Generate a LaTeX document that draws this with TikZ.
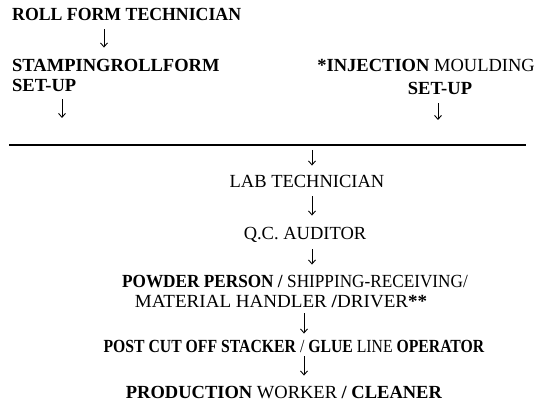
\documentclass[tikz,border=0pt]{standalone}
\usepackage{fontspec}
\setmainfont{Liberation Serif}
\usepackage{tikz}
\usetikzlibrary{arrows.meta,positioning,calc}
\tikzset{
  txt/.style={inner sep=0pt,font=\fontsize{18.5}{22}\selectfont},
  dn/.style={line width=.9pt,-{Straight Barb[length=4pt,width=7pt]},shorten <=6pt,shorten >=10pt},
  rulel/.style={line width=1.5pt,black}
}

\begin{document}
\begin{tikzpicture}[x=1pt,y=1pt]
  \useasboundingbox (0,0) rectangle (538,-414);
  % top left branch
  \node[txt,anchor=base west,transform shape,xscale=.96] (roll) at (12,-21) {\bfseries ROLL FORM TECHNICIAN};
  \node[txt,anchor=base west] (stamp) at (12,-72) {\bfseries STAMPINGROLLFORM};
  \node[txt,anchor=base west] (setl) at (12,-92) {\bfseries SET-UP};
  % top right branch
  \node[txt,anchor=base east] (inj) at (535,-72) {\textbf{*INJECTION} MOULDING};
  \node[txt,anchor=base] (setr) at (440,-95) {\bfseries SET-UP};
  % the rule
  \coordinate (rl) at (9,-145);
  \coordinate (rr) at (526,-145);
  \draw[rulel] (rl) -- (rr);
  % main column
  \node[txt,anchor=base] (lab) at (307,-188) {LAB TECHNICIAN};
  \node[txt,anchor=base] (qc) at (305,-240) {Q.C. AUDITOR};
  \node[txt,anchor=base,transform shape,xscale=.93] (pow) at (295,-287) {\textbf{POWDER PERSON /} SHIPPING-RECEIVING/};
  \node[txt,anchor=base,transform shape,xscale=1.03] (mat) at (281,-307) {MATERIAL HANDLER \textbf{/}DRIVER\textbf{**}};
  \node[txt,anchor=base,transform shape,xscale=.85] (post) at (294,-352) {\textbf{POST CUT OFF STACKER} / \textbf{GLUE} LINE \textbf{OPERATOR}};
  \node[txt,anchor=base] (prod) at (284,-398) {\textbf{PRODUCTION} WORKER \textbf{/ CLEANER}};
  % arrows
  \draw[dn,shorten <=8pt,shorten >=12pt] ([xshift=92pt]roll.south west) -- ([xshift=92pt]roll.south west |- stamp.north);
  \draw[dn,shorten <=7pt,shorten >=27pt] ([xshift=50pt]setl.south west) -- ([xshift=50pt]setl.south west |- rl);
  \draw[dn,shorten <=8pt,shorten >=25pt] ([xshift=-2pt]setr.south) -- ([xshift=-2pt]setr.south |- rr);
  \draw[dn,shorten <=5pt,shorten >=10pt] ([xshift=5pt]lab.north |- rl) -- ([xshift=5pt]lab.north);
  \draw[dn,shorten <=8pt,shorten >=12pt] ([xshift=5pt]lab.south) -- ([xshift=5pt]lab.south |- qc.north);
  \draw[dn] ([xshift=7pt]qc.south) -- ([xshift=7pt]qc.south |- pow.north);
  \draw[dn,shorten >=6pt] ([xshift=23pt]mat.south) -- ([xshift=23pt]mat.south |- post.north);
  \draw[dn,shorten <=4pt] ([xshift=10pt]post.south) -- ([xshift=10pt]post.south |- prod.north);
\end{tikzpicture}
\end{document}
